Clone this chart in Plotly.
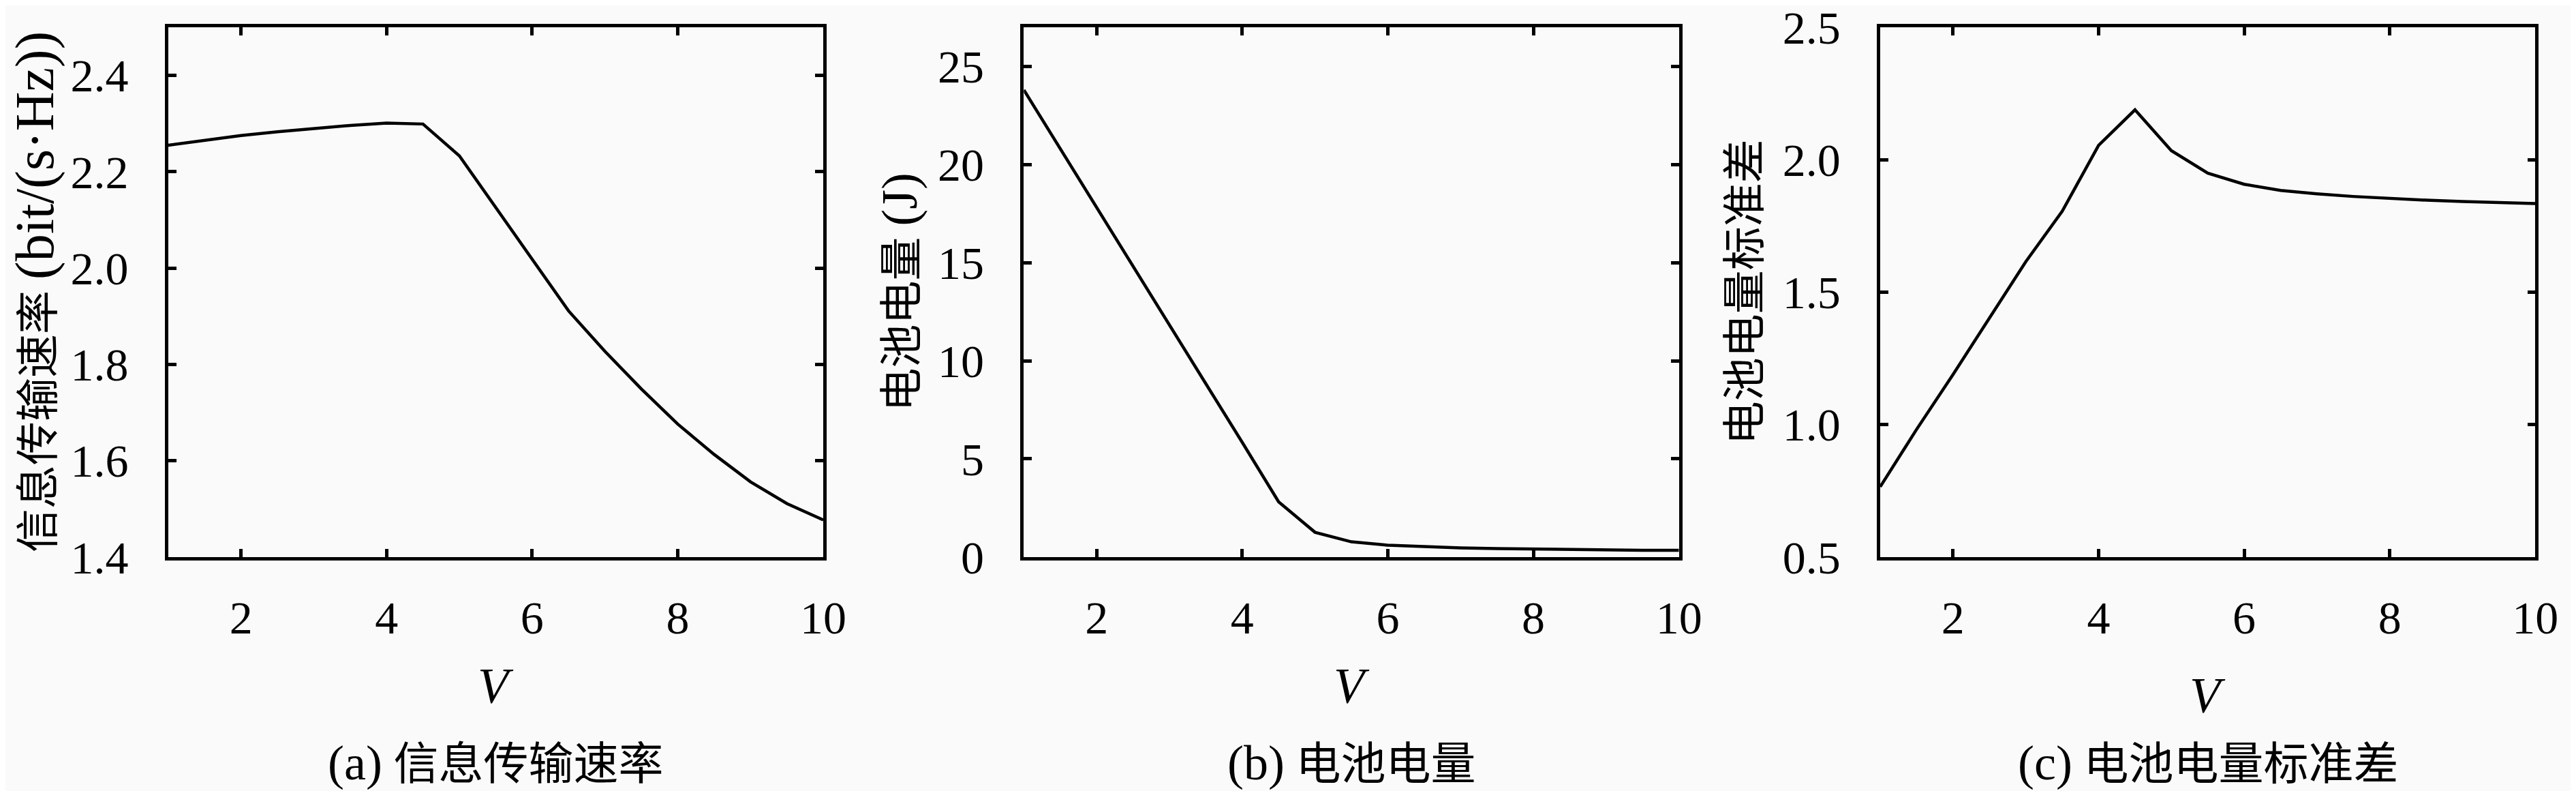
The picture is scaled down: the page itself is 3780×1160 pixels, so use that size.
import plotly.graph_objects as go

# --- data ---
V = [1, 1.5, 2, 2.5, 3, 3.5, 4, 4.5, 5, 5.5, 6, 6.5, 7, 7.5, 8, 8.5, 9, 9.5, 10]

rate = [2.255, 2.265, 2.275, 2.283, 2.290, 2.296, 2.301, 2.299, 2.233, 2.125,
        2.017, 1.911, 1.827, 1.749, 1.676, 1.613, 1.556, 1.511, 1.477]

battery = [23.8, 20.82, 17.82, 14.83, 11.83, 8.83, 5.84, 2.81, 1.26, 0.775,
           0.60, 0.52, 0.46, 0.43, 0.40, 0.38, 0.36, 0.345, 0.34]

battery_std = [0.765, 0.982, 1.189, 1.402, 1.615, 1.805, 2.054, 2.188, 2.034, 1.949,
               1.907, 1.884, 1.871, 1.861, 1.853, 1.847, 1.842, 1.838, 1.834]

x_ticks = [2, 4, 6, 8, 10]
y_titles = ["信息传输速率 <span style='font-size:80px'>(bit/(s·Hz))</span>",
            "电池电量 <span style='font-size:74px'>(J)</span>",
            "电池电量标准差"]
captions = ["<span style='font-size:72px'>(a)</span> 信息传输速率",
            "<span style='font-size:72px'>(b)</span> 电池电量",
            "<span style='font-size:72px'>(c)</span> 电池电量标准差"]

# --- layout in pixels ---
W, H = 3780, 1160
FONT = "Liberation Serif, Noto Sans CJK SC, serif"
BG = "#fafafa"
panels_px = [(241, 1211), (1508, 2478), (2776, 3746)]
top_px, bottom_px = 33, 837
ytitle_x_px = [44, 1324, 2576]
vlabel_y_px = [1033, 1033, 1047]
caption_y_px = 1150

series = [rate, battery, battery_std]
y_ranges = [[1.4, 2.5], [0, 27], [0.5, 2.5]]
y_tick_vals = [
    [1.4, 1.6, 1.8, 2.0, 2.2, 2.4],
    [0, 5, 10, 15, 20, 25],
    [0.5, 1.0, 1.5, 2.0, 2.5],
]
y_tick_fmt = [".1f", "d", ".1f"]

fig = go.Figure()
axis_common = dict(
    showline=True, linecolor="black", linewidth=4.5, mirror="ticks",
    ticks="inside", ticklen=12, tickwidth=4.5, tickcolor="black",
    showgrid=False, zeroline=False,
    tickfont=dict(family=FONT, size=68, color="black"),
)

for i, (x0, x1) in enumerate(panels_px):
    n = "" if i == 0 else str(i + 1)
    fig.add_trace(go.Scatter(
        x=V, y=series[i], mode="lines",
        line=dict(color="black", width=4.5),
        xaxis="x" + n, yaxis="y" + n, showlegend=False,
    ))
    fig.layout["xaxis" + n] = dict(
        domain=[x0 / W, x1 / W], anchor="y" + n, range=[1, 10],
        tickvals=x_ticks, ticklabelstandoff=26, **axis_common,
    )
    fig.layout["yaxis" + n] = dict(
        domain=[1 - bottom_px / H, 1 - top_px / H], anchor="x" + n,
        range=y_ranges[i], tickvals=y_tick_vals[i], tickformat=y_tick_fmt[i],
        ticklabelstandoff=40, **axis_common,
    )
    cx = (x0 + x1) / 2 / W
    fig.add_annotation(
        x=ytitle_x_px[i] / W, y=1 - (top_px + bottom_px) / 2 / H,
        xref="paper", yref="paper", text=y_titles[i], textangle=-90,
        xanchor="center", yanchor="middle",
        showarrow=False, font=dict(family=FONT, size=64, color="black"),
    )
    fig.add_annotation(
        x=cx, y=1 - vlabel_y_px[i] / H, xref="paper", yref="paper",
        text="<i>V</i>", showarrow=False, xanchor="center", yanchor="middle",
        font=dict(family=FONT, size=74, color="black"),
    )
    fig.add_annotation(
        x=cx, y=1 - caption_y_px / H, xref="paper", yref="paper",
        text=captions[i], showarrow=False, xanchor="center", yanchor="middle",
        font=dict(family=FONT, size=66, color="black"),
    )

# the 2.5 label on panel (c) sits at the very top edge: let it show without pushing margins
fig.update_layout(yaxis3=dict(ticklabeloverflow="allow", automargin=False))

fig.update_layout(
    width=W, height=H,
    margin=dict(l=0, r=0, t=0, b=0),
    paper_bgcolor=BG, plot_bgcolor=BG,
)

fig.write_html("out.html")
